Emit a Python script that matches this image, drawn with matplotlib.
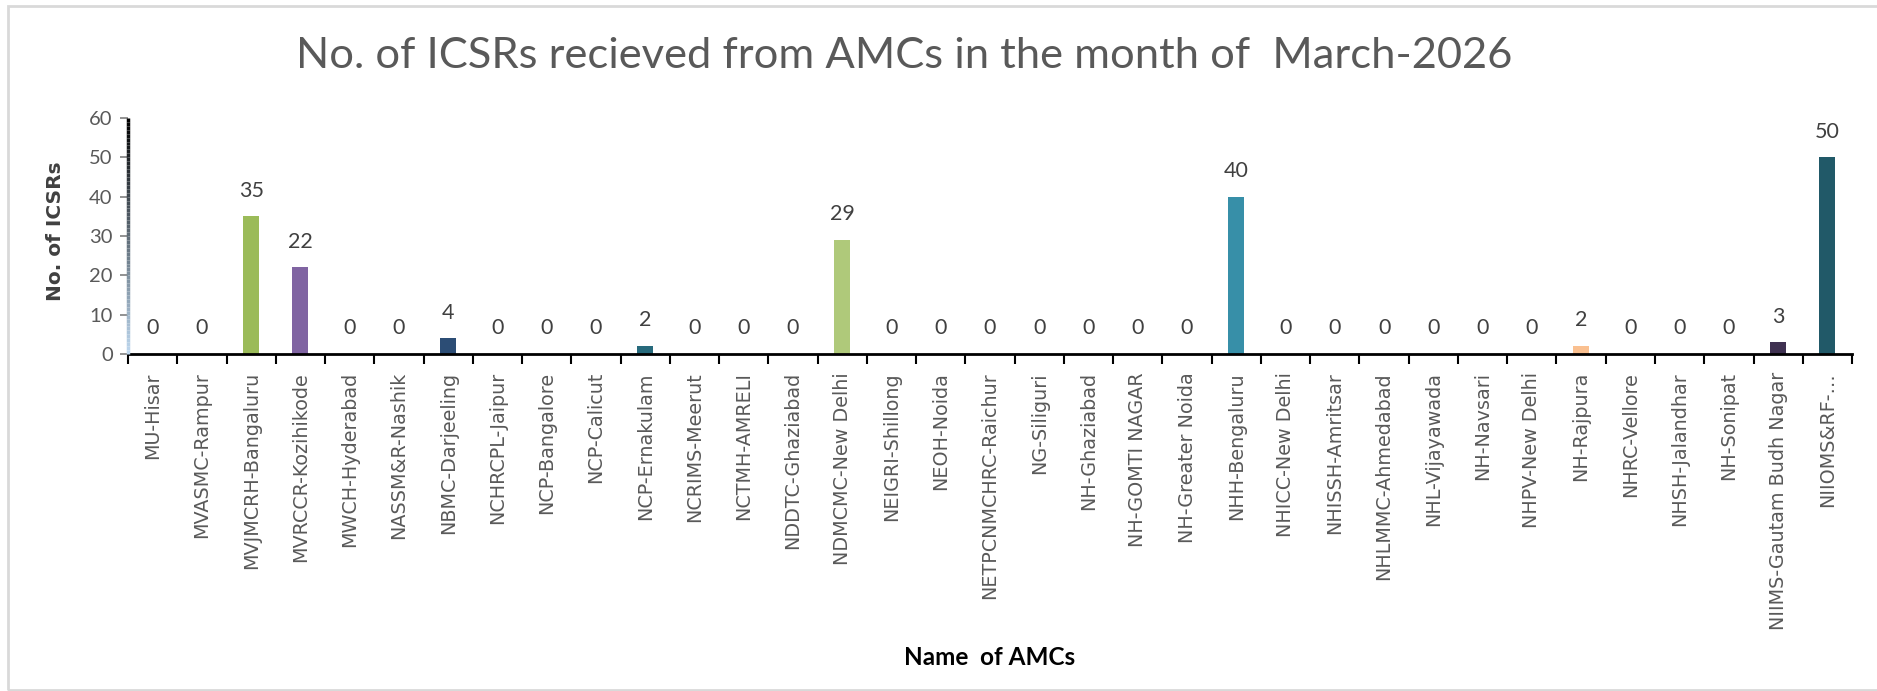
import numpy as np
import matplotlib
matplotlib.use("Agg")
import matplotlib.pyplot as plt
from matplotlib.collections import LineCollection
from matplotlib.colors import to_rgb
from matplotlib.patches import Rectangle

# --- data ---
amc_names = [
    "MU-Hisar", "MVASMC-Rampur", "MVJMCRH-Bangaluru", "MVRCCR-Kozihikode",
    "MWCH-Hyderabad", "NASSM&R-Nashik", "NBMC-Darjeeling", "NCHRCPL-Jaipur",
    "NCP-Bangalore", "NCP-Calicut", "NCP-Ernakulam", "NCRIMS-Meerut",
    "NCTMH-AMRELI", "NDDTC-Ghaziabad", "NDMCMC-New Delhi", "NEIGRI-Shillong",
    "NEOH-Noida", "NETPCNMCHRC-Raichur", "NG-Siliguri", "NH-Ghaziabad",
    "NH-GOMTI NAGAR", "NH-Greater Noida", "NHH-Bengaluru", "NHICC-New Delhi",
    "NHISSH-Amritsar", "NHLMMC-Ahmedabad", "NHL-Vijayawada", "NH-Navsari",
    "NHPV-New Delhi", "NH-Rajpura", "NHRC-Vellore", "NHSH-Jalandhar",
    "NH-Sonipat", "NIIMS-Gautam Budh Nagar", "NIIOMS&RF-…",
]
icsr_counts = [
    0, 0, 35, 22, 0, 0, 4, 0, 0, 0, 2, 0, 0, 0, 29, 0, 0, 0,
    0, 0, 0, 0, 40, 0, 0, 0, 0, 0, 0, 2, 0, 0, 0, 3, 50,
]
# Excel "vary colors by point" palette
bar_colors = [
    "#4F81BD", "#C0504D", "#9BBB59", "#8064A2", "#4BACC6", "#F79646",
    "#2C4D75", "#772C2A", "#5F7530", "#4D3B62", "#276A7C", "#B65708",
    "#729ACA", "#CD7371", "#AFC97A", "#9983B5", "#6FBDD1", "#F9AB6B",
    "#3A5F8B", "#8F3C3A", "#758F45", "#604A7B", "#378FA8", "#8B4E1D",
    "#95B3D7", "#D99694", "#C3D69B", "#B2A2C7", "#93CDDD", "#FAC090",
    "#254061", "#632523", "#4F6228", "#3F3151", "#215968",
]

TEXT_GREY = "#595959"

fig = plt.figure(figsize=(18.77, 6.91), dpi=100)
ax = fig.add_axes([0.0682, 0.4877, 0.9185, 0.3416])

x = np.arange(len(amc_names))
ax.bar(x, icsr_counts, width=0.325, color=bar_colors, zorder=2)

for xi, v in zip(x, icsr_counts):
    ax.annotate(str(v), (xi, v), xytext=(0, 18.5), textcoords="offset points",
                ha="center", va="center", fontsize=15.5, family="Lato",
                color="#404040")

ax.set_xlim(-0.5, len(amc_names) - 0.5)
ax.set_ylim(0, 60)
ax.set_yticks(range(0, 61, 10))
ax.tick_params(axis="y", labelsize=14.5, labelcolor=TEXT_GREY, length=6,
               width=1.2, color="#7F7F7F", pad=5)
for lbl in ax.get_yticklabels():
    lbl.set_family("Lato")

# category labels at centres, tick marks between categories
ax.set_xticks(x)
ax.set_xticklabels(amc_names, rotation=90, fontsize=13.8, color=TEXT_GREY,
                   family="DejaVu Sans")
ax.tick_params(axis="x", which="major", length=0, pad=13)
ax.set_xticks(np.arange(-0.5, len(amc_names)), minor=True)
ax.tick_params(axis="x", which="minor", length=7, width=1.5, color="black")

for side in ["top", "right", "left"]:
    ax.spines[side].set_visible(False)
ax.spines["bottom"].set_linewidth(2)
ax.spines["bottom"].set_color("black")

# y axis line fading from black (top) to light blue (bottom)
n = 60
ys = np.linspace(0, 60, n + 1)
segs = [[(-0.5, ys[i]), (-0.5, ys[i + 1])] for i in range(n)]
c_bot = np.array(to_rgb("#BDD7EE"))
c_top = np.array(to_rgb("#000000"))
seg_colors = [c_bot + (c_top - c_bot) * (i / (n - 1)) for i in range(n)]
lc = LineCollection(segs, colors=seg_colors, linewidths=2.5, clip_on=False, zorder=3)
ax.add_collection(lc)

fig.text(0.4816, 0.919, "No. of ICSRs recieved from AMCs in the month of  March-2026",
         ha="center", va="center", fontsize=31.3, family="Lato", color=TEXT_GREY)
fig.text(0.0298, 0.665, "No. of ICSRs", rotation=90, ha="center", va="center",
         fontsize=14.5, fontweight="bold", family="DejaVu Sans", color="#404040")
fig.text(0.5274, 0.0478, "Name  of AMCs", ha="center", va="center",
         fontsize=17.5, fontweight="bold", family="Lato", color="black")

# light chart-area frame (right edge runs off the picture)
fig.patches.append(Rectangle((8 / 1877, 0.002), 1.2, 1 - 0.002 - 6 / 691,
                             transform=fig.transFigure, fill=False,
                             edgecolor="#D9D9D9", linewidth=2))

fig.savefig("out.png", dpi=100, facecolor="white")
